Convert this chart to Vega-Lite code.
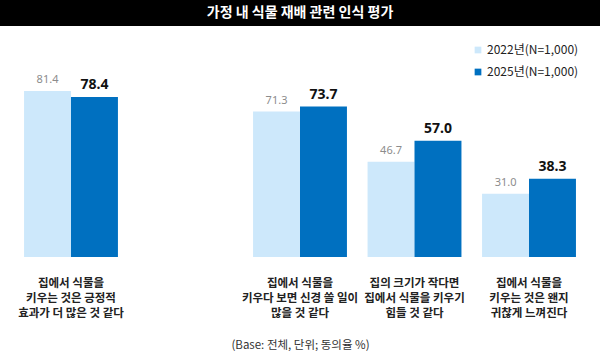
{
  "$schema": "https://vega.github.io/schema/vega-lite/v6.json",
  "padding": 0,
  "spacing": 0,
  "background": "white",
  "config": {"font": "Noto Sans CJK KR", "view": {"stroke": null}},
  "vconcat": [
    {
      "width": 600,
      "height": 26,
      "view": {"fill": "#000000", "stroke": null},
      "data": {"values": [{"t": "가정 내 식물 재배 관련 인식 평가"}]},
      "mark": {"type": "text", "color": "white", "fontSize": 14, "fontWeight": "bold", "baseline": "middle", "align": "center"},
      "encoding": {"text": {"field": "t"}}
    },
    {
      "width": 600,
      "height": 231,
      "data": {"values": [
        {"cat": "집에서 식물을|키우는 것은 긍정적|효과가 더 많은 것 같다", "year": "2022년(N=1,000)", "value": 81.4},
        {"cat": "집에서 식물을|키우는 것은 긍정적|효과가 더 많은 것 같다", "year": "2025년(N=1,000)", "value": 78.4},
        {"cat": "집에서 식물을|키우다 보면 신경 쓸 일이|많을 것 같다", "year": "2022년(N=1,000)", "value": 71.3},
        {"cat": "집에서 식물을|키우다 보면 신경 쓸 일이|많을 것 같다", "year": "2025년(N=1,000)", "value": 73.7},
        {"cat": "집의 크기가 작다면|집에서 식물을 키우기|힘들 것 같다", "year": "2022년(N=1,000)", "value": 46.7},
        {"cat": "집의 크기가 작다면|집에서 식물을 키우기|힘들 것 같다", "year": "2025년(N=1,000)", "value": 57.0},
        {"cat": "집에서 식물을|키우는 것은 왠지|귀찮게 느껴진다", "year": "2022년(N=1,000)", "value": 31.0},
        {"cat": "집에서 식물을|키우는 것은 왠지|귀찮게 느껴진다", "year": "2025년(N=1,000)", "value": 38.3}
      ]},
      "encoding": {
        "x": {
          "field": "cat",
          "type": "nominal",
          "sort": null,
          "scale": {
            "domain": [
              "집에서 식물을|키우는 것은 긍정적|효과가 더 많은 것 같다",
              " ",
              "집에서 식물을|키우다 보면 신경 쓸 일이|많을 것 같다",
              "집의 크기가 작다면|집에서 식물을 키우기|힘들 것 같다",
              "집에서 식물을|키우는 것은 왠지|귀찮게 느껴진다"
            ],
            "paddingInner": 0.18,
            "paddingOuter": 0.21
          },
          "axis": {
            "title": "(Base: 전체, 단위; 동의율 %)",
            "titleFontSize": 11.5,
            "titleFontWeight": "normal",
            "titleColor": "#333333",
            "titlePadding": 21,
            "labelExpr": "split(datum.label, '|')",
            "labelAngle": 0,
            "labelFontSize": 11.5,
            "labelFontWeight": "bold",
            "labelColor": "#222222",
            "labelPadding": 20,
            "labelLineHeight": 15,
            "labelLimit": 300,
            "domain": false,
            "ticks": false,
            "grid": false
          }
        },
        "xOffset": {"field": "year", "type": "nominal", "scale": {"paddingInner": 0, "paddingOuter": 0}},
        "y": {"field": "value", "type": "quantitative", "scale": {"domain": [0, 113.2]}, "axis": null}
      },
      "layer": [
        {
          "mark": {"type": "bar"},
          "encoding": {
            "color": {
              "field": "year",
              "type": "nominal",
              "scale": {"range": ["#cde8fb", "#0070c0"]},
              "legend": {
                "title": null,
                "orient": "none",
                "legendX": 472,
                "legendY": 44,
                "symbolType": "square",
                "symbolSize": 45,
                "symbolStrokeWidth": 0,
                "labelFontSize": 12,
                "labelColor": "#222222",
                "rowPadding": 10,
                "labelOffset": 3
              }
            }
          }
        },
        {
          "transform": [{"filter": "datum.year == '2022년(N=1,000)'"}],
          "mark": {"type": "text", "baseline": "bottom", "dy": -6, "fontSize": 11, "color": "#8c8c8c", "font": "Noto Sans"},
          "encoding": {"text": {"field": "value", "type": "quantitative", "format": ".1f"}}
        },
        {
          "transform": [{"filter": "datum.year == '2025년(N=1,000)'"}],
          "mark": {"type": "text", "baseline": "bottom", "dy": -5, "fontSize": 14, "fontWeight": "bold", "color": "#111111", "font": "Noto Sans"},
          "encoding": {"text": {"field": "value", "type": "quantitative", "format": ".1f"}}
        }
      ]
    }
  ]
}
